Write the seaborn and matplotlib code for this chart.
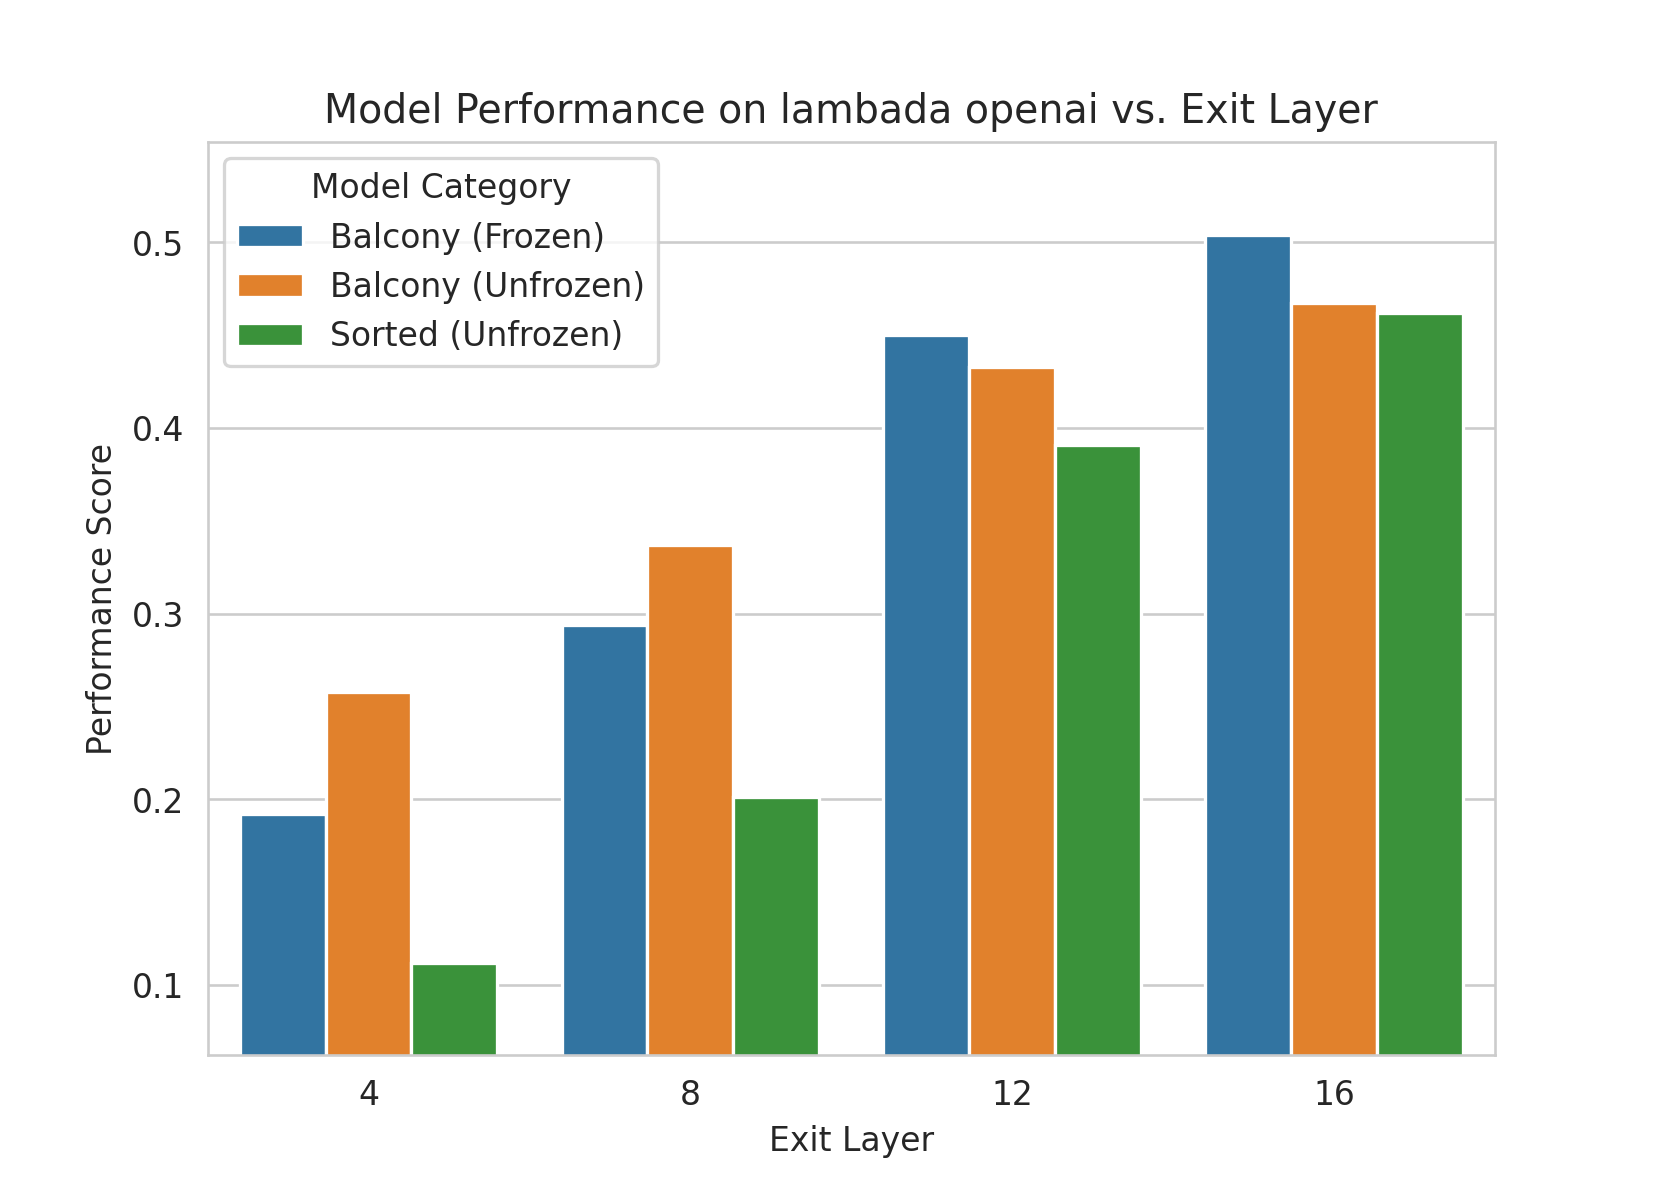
import pandas as pd
import matplotlib.pyplot as plt
import seaborn as sns

# Data
exit_layers = [4, 8, 12, 16]
balcony_frozen = [0.192, 0.294, 0.450, 0.504]
balcony_unfrozen = [0.258, 0.337, 0.433, 0.467]
sorted_unfrozen = [0.112, 0.201, 0.391, 0.462]
categories = ["Balcony (Frozen)", "Balcony (Unfrozen)", "Sorted (Unfrozen)"]

rows = []
for cat, vals in zip(categories, [balcony_frozen, balcony_unfrozen, sorted_unfrozen]):
    for layer, v in zip(exit_layers, vals):
        rows.append({"Exit Layer": layer, "Performance Score": v, "Model Category": cat})
df = pd.DataFrame(rows)

sns.set_style("whitegrid")

fig, ax = plt.subplots(figsize=(7, 5))

sns.barplot(data=df, x="Exit Layer", y="Performance Score",
            hue="Model Category", hue_order=categories, palette="tab10", ax=ax)

ax.set_title("Model Performance on lambada openai vs. Exit Layer")
ax.set_ylim(df["Performance Score"].min() - 0.05, df["Performance Score"].max() + 0.05)
ax.legend(title="Model Category", loc="upper left")

plt.savefig("out.png", dpi=237.3)
